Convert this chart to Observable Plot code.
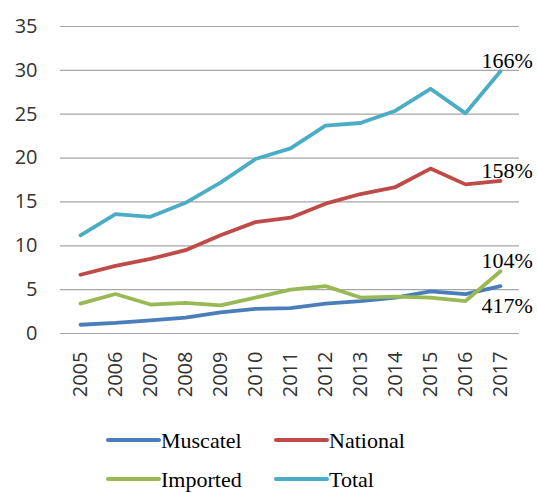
<!DOCTYPE html>
<html>
<head>
<meta charset="utf-8">
<script src="https://cdn.jsdelivr.net/npm/d3@7"></script>
<script src="https://cdn.jsdelivr.net/npm/@observablehq/plot@0.6"></script>
<style>
  html, body { margin: 0; padding: 0; background: #fff; }
  #wrap { width: 537px; height: 493px; overflow: hidden; }
  #legend { display: block; }
</style>
</head>
<body>
<div id="wrap"></div>
<script>
const years = ["2005","2006","2007","2008","2009","2010","2011","2012","2013","2014","2015","2016","2017"];
const seriesNames = ["Muscatel", "National", "Imported", "Total"];
const seriesColors = ["#4a7ebb", "#be4b48", "#98b954", "#4bacc6"];
const muscatel = [1.0, 1.2, 1.5, 1.8, 2.4, 2.8, 2.9, 3.4, 3.7, 4.1, 4.8, 4.5, 5.4];
const national = [6.7, 7.7, 8.5, 9.5, 11.2, 12.7, 13.2, 14.8, 15.9, 16.7, 18.8, 17.0, 17.4];
const imported = [3.4, 4.5, 3.3, 3.5, 3.2, 4.1, 5.0, 5.4, 4.1, 4.2, 4.1, 3.7, 7.1];
const total = [11.2, 13.6, 13.3, 14.9, 17.2, 19.9, 21.1, 23.7, 24.0, 25.4, 27.9, 25.1, 29.9];
const yTicks = [0, 5, 10, 15, 20, 25, 30, 35];
const annotSeries = ["Total", "National", "Imported", "Muscatel"];
const annotLabels = ["166%", "158%", "104%", "417%"];

const values = [muscatel, national, imported, total];
const data = seriesNames.flatMap((s, i) => years.map((y, j) => ({series: s, year: y, value: values[i][j]})));
const annots = annotSeries.map((s, i) => ({
  series: s, label: annotLabels[i], year: years[years.length - 1],
  value: values[seriesNames.indexOf(s)][years.length - 1]
}));

const chart = Plot.plot({
  width: 537,
  height: 420,
  marginLeft: 60,
  marginRight: 18,
  marginTop: 26,
  marginBottom: 87,
  x: {type: "point", domain: years, padding: 0.5, label: null},
  y: {domain: [0, 35], label: null},
  color: {domain: seriesNames, range: seriesColors},
  style: {fontFamily: "'Open Sans', sans-serif", fontSize: "20px", color: "#333", background: "#fff"},
  marks: [
    Plot.gridY(yTicks, {stroke: "#a6a6a6", strokeOpacity: 1, strokeWidth: 1.2}),
    Plot.axisY(yTicks, {tickSize: 0, tickPadding: 23, fontSize: 20, fill: "#333"}),
    Plot.axisX({tickSize: 0, tickRotate: -90, tickPadding: 18, fontSize: 20, fill: "#333"}),
    Plot.line(data, {x: "year", y: "value", z: "series", stroke: "series", strokeWidth: 3.8,
      strokeLinejoin: "round", strokeLinecap: "round"}),
    ...annots.map(a => Plot.text([a], {
      x: "year", y: "value", text: "label", textAnchor: "start", lineAnchor: "bottom",
      dx: -19, dy: a.series === "Muscatel" ? 27 : -3,
      fontFamily: "'Liberation Serif', 'Times New Roman', serif", fontSize: 22, fill: "#000"
    }))
  ]
});

const wrap = document.getElementById("wrap");
wrap.appendChild(chart);

// Legend below the chart
const legend = d3.create("svg").attr("id", "legend").attr("width", 537).attr("height", 73);
const cols = [108, 276];
const rows = [20, 59];
seriesNames.forEach((s, i) => {
  const cx = cols[i % 2], cy = rows[Math.floor(i / 2)];
  legend.append("line").attr("x1", cx).attr("x2", cx + 51).attr("y1", cy).attr("y2", cy)
    .attr("stroke", seriesColors[i]).attr("stroke-width", 4).attr("stroke-linecap", "round");
  legend.append("text").attr("x", cx + 53).attr("y", cy + 8)
    .attr("font-family", "'Liberation Serif', 'Times New Roman', serif").attr("font-size", 22)
    .attr("fill", "#000").text(s);
});
wrap.appendChild(legend.node());
</script>
</body>
</html>
